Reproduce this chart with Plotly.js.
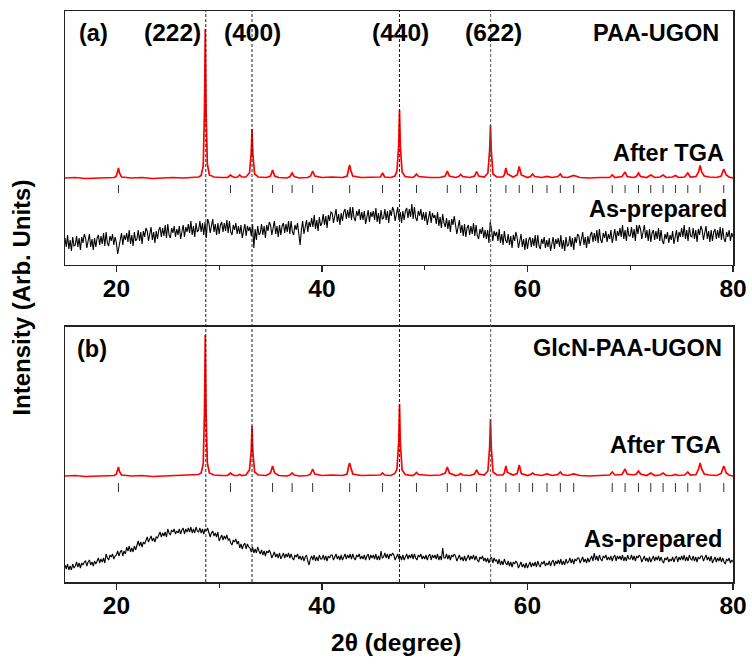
<!DOCTYPE html>
<html>
<head>
<meta charset="utf-8">
<script src="https://cdn.plot.ly/plotly-3.0.1.min.js"></script>
<style>html,body{margin:0;padding:0;background:#fff;}#chart{width:752px;height:666px;}</style>
</head>
<body>
<div id="chart"></div>
<script>
// ---------- data (arbitrary intensity units) ----------
// 2-theta positions of the "After TGA" traces
var tgaX = [15.0,16.0,17.0,18.0,19.0,19.8,20.0,20.1,20.2,20.3,20.5,21.5,22.5,23.5,24.5,25.5,26.5,27.5,28.0,28.25,28.45,28.57,28.65,28.73,28.85,29.05,29.5,30.2,30.8,31.0,31.1,31.2,31.5,31.8,32.0,32.2,32.6,32.95,33.12,33.2,33.28,33.45,33.8,34.6,35.0,35.2,35.4,35.8,36.6,36.9,37.1,37.3,37.8,38.6,38.9,39.1,39.3,40.0,41.0,42.0,42.45,42.6,42.7,42.8,43.0,43.8,44.8,45.7,45.9,46.1,46.7,47.1,47.3,47.47,47.55,47.63,47.8,48.1,48.8,49.0,49.2,49.4,50.5,51.5,52.0,52.2,52.4,53.0,53.3,53.5,53.7,54.4,54.85,55.05,55.25,55.8,56.15,56.32,56.4,56.48,56.65,57.0,57.6,57.75,57.9,58.05,58.6,59.0,59.2,59.4,60.0,60.3,60.5,60.7,61.4,61.9,62.4,62.95,63.2,63.4,63.9,64.5,65.1,66.0,67.0,68.0,68.25,68.5,69.2,69.5,69.7,70.3,70.6,70.8,71.0,71.6,72.0,72.4,72.9,73.2,73.5,74.1,74.4,74.7,75.3,75.6,75.85,76.4,76.65,76.8,76.95,77.2,77.7,78.4,78.85,79.1,79.35,79.6,80.0];
var tgaA = [87,87.5,86.5,87,87.5,87.5,89,93,97,92,88,87,87.5,86.5,87,87.5,87,87.5,88,89.5,99,154,236,152,101,90,88,87.5,87.5,89,90,89,87.5,88,90,88,88,92,112,136,111,91,88,87.5,89,95,89,87.5,87,88.5,92,88.5,87,87.5,89,94,89,87.5,88,87.5,89,96,100,95,89,87.5,87.5,88,92,88,87.5,89,94,120,155,119,93,88.5,87.5,88.5,91,88.5,87.5,87.5,89,94,89,87.5,88.5,90.5,88.5,87.5,89,93.5,89,88,92,115,140,114,91,88,88,90,97,91,88,90,98.5,90,87.5,88.5,91,88.5,87.5,88.5,87.5,88.5,91,88,87.5,89.5,87.5,87,87.5,87.5,90,87.5,88.5,93,88.5,87.5,88.5,92,88.5,87.5,90,87.5,88,90,87.5,88,89.5,87.5,88,92,88,88.5,93,99.5,93,89,88,87.5,89,96,90,88,87];
var tgaB = [106,106.5,105.5,106,106.5,106.5,108,111.5,115,110.5,107,106,106.5,105.5,106,106,106.5,107,107.5,109,118,170,247,168,119,109,107,106.5,106.5,108,109,108,106.5,106.5,107.5,106.5,107,112,131,156,130,110,107,106.5,109,116,109,106.5,106,107,109,107,106,106.5,108,113,108,106.5,107,106.5,108,116,119,115,108,106.5,106.5,107,109,107,106.5,108.5,113,140,178,139,112,107.5,106.5,107.5,109.5,107.5,106.5,107,109,115,109,106.5,107,108.5,107,106.5,108,112,108,107,111,135,163,134,110,107,107,109,116,109.5,107,108.5,117,108.5,106.5,107.5,109,107.5,106.5,108,106.5,107.5,110,107.5,106.5,108,106.5,106,106.5,107,110,107,107.5,113,108,107,108,111,108,106.5,109,106.5,107,109,106.5,106.5,107.5,106.5,107,110,107,107.5,113,119,113,108,107,106.5,108.5,116,109,107,106];

// "As-prepared" traces, one value every 0.125 degree from 15 to 80 (one row = one degree)
var asStart = 15, asStep = 0.125;
var asPrepA = [
27,18,30,16,25,14,28,19, 20,29,18,27,15,28,22,31, 27,17,24,31,18,26,15,27, 18,27,30,20,29,21,32,19,
33,22,19,29,24,31,20,28, 22,11,18,27,32,20,30,25, 32,23,35,21,30,19,33,24, 26,35,24,33,21,34,28,37,
34,24,31,38,25,33,22,34, 26,35,38,28,37,29,40,27, 41,30,27,37,32,39,28,36, 30,39,26,35,40,28,38,33,
41,32,44,30,39,28,42,33, 35,44,33,42,30,43,27,46, 42,32,39,46,33,41,30,42, 31,40,43,33,42,34,45,32,
44,33,30,40,35,42,31,39, 31,40,27,36,41,29,39,34, 38,29,41,17,36,25,39,30, 32,41,30,39,27,40,34,43,
40,30,37,44,31,39,28,40, 30,39,42,32,41,33,44,31, 44,33,30,40,35,42,31,20, 35,44,31,40,45,33,43,38,
47,38,50,36,45,34,48,39, 42,51,40,49,37,50,44,53, 52,42,49,56,43,51,40,52, 44,53,56,46,55,47,58,45,
58,47,44,54,49,56,45,53, 45,54,41,50,55,43,53,48, 54,45,57,43,52,41,55,46, 47,56,45,54,42,55,49,58,
54,44,51,58,45,53,42,54, 45,54,57,47,56,48,61,46, 58,47,44,54,49,56,45,53, 44,53,40,49,54,42,52,47,
50,41,53,39,48,37,51,42, 38,47,36,45,33,46,40,49, 41,31,38,45,32,40,29,41, 28,37,40,30,39,31,42,29,
40,29,26,36,31,38,27,35, 26,35,22,43,36,24,34,29, 33,24,36,22,31,20,34,25, 22,31,20,29,17,30,24,33,
27,17,24,31,18,26,15,27, 16,25,28,18,27,19,30,17, 30,19,16,26,21,28,17,25, 18,27,14,23,28,16,26,21,
27,18,30,16,25,14,28,19, 20,29,18,27,15,28,22,31, 29,19,26,33,20,28,17,29, 21,30,33,23,32,24,35,22,
36,25,22,32,27,34,23,31, 26,35,22,31,36,24,34,29, 37,28,40,26,35,24,38,29, 29,38,27,36,24,40,31,40,
36,26,33,40,27,35,24,36, 23,32,35,25,34,26,37,24, 35,24,21,31,26,33,22,30, 25,34,21,30,35,23,33,28,
37,28,40,26,35,24,38,29, 28,37,26,35,23,36,30,39, 35,25,32,39,26,34,23,35, 24,33,36,26,35,27,38,25,
37,26,23,33,28,35,24,32,
28];
var asPrepB = [
17,13,18,12,16,12,18,14, 16,20,15,19,14,19,17,20, 21,16,20,22,17,20,16,21, 18,22,24,19,23,20,24,19,
28,24,22,27,25,28,23,26, 27,31,26,30,32,26,31,28, 35,31,36,30,34,30,36,32, 37,41,36,40,35,40,38,41,
45,40,44,46,41,44,40,45, 44,48,50,45,49,46,50,45, 53,49,47,52,50,53,48,51, 49,53,48,52,54,48,53,50,
54,50,55,49,53,49,55,51, 50,54,49,53,48,53,51,54, 50,45,49,51,46,49,45,50, 41,45,47,42,46,43,47,42,
43,39,37,42,40,43,38,41, 34,38,33,37,39,33,38,35, 34,30,35,29,33,29,35,31, 28,32,27,31,26,31,29,32,
29,24,28,30,25,28,24,29, 23,27,29,24,28,25,29,24, 28,24,22,27,25,28,23,26, 22,26,21,25,27,21,17,23,
26,22,27,21,25,21,27,23, 23,27,22,26,21,26,24,27, 27,22,26,28,23,26,22,27, 22,26,28,23,27,24,28,23,
28,24,22,27,25,28,23,26, 23,27,22,26,28,22,27,24, 27,23,28,22,26,22,31,24, 25,29,24,28,23,28,26,29,
27,22,26,28,23,26,22,27, 22,26,28,23,27,24,28,23, 28,24,22,27,25,28,23,26, 23,27,22,26,28,22,27,24,
27,23,28,22,26,22,34,24, 24,28,23,27,22,27,25,28, 26,21,25,27,22,25,21,26, 21,25,27,22,26,23,27,22,
26,22,20,25,23,26,21,24, 20,24,19,23,25,19,24,21, 22,18,23,17,21,17,23,19, 17,21,16,20,15,20,18,21,
19,14,18,20,15,18,14,19, 14,18,20,15,19,16,20,15, 21,17,15,20,18,21,16,19, 17,21,16,20,22,16,21,18,
22,18,23,17,21,17,23,19, 20,24,19,23,18,23,21,24, 24,19,23,25,20,23,19,24, 20,24,26,21,29,22,26,21,
27,23,21,26,24,27,22,25, 22,26,21,25,27,21,26,23, 26,22,27,21,25,21,27,23, 23,27,22,26,21,26,24,27,
25,20,24,26,21,24,20,25, 20,24,26,21,25,22,26,21, 25,21,19,24,22,25,20,23, 21,25,20,24,26,20,25,22,
26,22,27,21,25,21,27,23, 22,26,21,25,20,25,23,26, 26,21,25,27,22,25,21,26, 19,23,25,20,24,21,25,20,
24,20,18,23,21,24,19,22,
20];

// reference reflection markers and indexed peaks
var refPos = [20.2,31.1,35.2,37.1,39.1,42.7,45.9,49.2,52.2,53.5,55.05,57.9,59.2,60.5,61.9,63.2,64.5,68.25,69.5,70.8,72.0,73.2,74.4,75.6,76.8,79.1];
var hklPos = [28.7, 33.2, 47.55, 56.42];
var hklLabels = ["(222)", "(400)", "(440)", "(622)"];
var xTicks = [20, 40, 60, 80];
var xMinorTicks = [30, 50, 70];

// ---------- build traces ----------
var asX = [];
for (var i = 0; i < asPrepA.length; i++) asX.push(asStart + i * asStep);

function markers(pos, lo, hi) {
  var x = [], y = [];
  pos.forEach(function (p) { x.push(p, p, null); y.push(lo, hi, null); });
  return {x: x, y: y};
}
var mA = markers(refPos, 72, 80);
var mB = markers(refPos, 90, 99);

var red = '#ff0000';
var traces = [
  {x: asX, y: asPrepA, xaxis: 'x', yaxis: 'y', mode: 'lines', line: {color: '#000', width: 1.1}, hoverinfo: 'skip'},
  {x: tgaX, y: tgaA, xaxis: 'x', yaxis: 'y', mode: 'lines', line: {color: red, width: 1.7}, hoverinfo: 'skip'},
  {x: mA.x, y: mA.y, xaxis: 'x', yaxis: 'y', mode: 'lines', line: {color: '#333', width: 1}, connectgaps: false, hoverinfo: 'skip'},
  {x: asX, y: asPrepB, xaxis: 'x2', yaxis: 'y2', mode: 'lines', line: {color: '#000', width: 1.1}, hoverinfo: 'skip'},
  {x: tgaX, y: tgaB, xaxis: 'x2', yaxis: 'y2', mode: 'lines', line: {color: red, width: 1.7}, hoverinfo: 'skip'},
  {x: mB.x, y: mB.y, xaxis: 'x2', yaxis: 'y2', mode: 'lines', line: {color: '#333', width: 1}, connectgaps: false, hoverinfo: 'skip'}
];

var FONT = 'Liberation Sans, Arial, Helvetica, sans-serif';
var tickFont = {family: FONT, size: 24.5, color: '#000', weight: 700};

function xAxis(anchor) {
  return {
    anchor: anchor, domain: [0, 1], range: [15, 80],
    tickmode: 'array', tickvals: xTicks, ticktext: xTicks.map(String),
    ticks: 'outside', ticklen: 6, tickwidth: 1.5, tickcolor: '#222',
    ticklabelstandoff: -5,
    minor: {tickmode: 'array', tickvals: xMinorTicks, ticks: 'outside', ticklen: 4, tickwidth: 1.2, tickcolor: '#222'},
    tickfont: tickFont,
    showline: true, mirror: true, linecolor: '#222', linewidth: 1.5,
    showgrid: false, zeroline: false
  };
}
function yAxis(anchor, dom, rng) {
  return {
    anchor: anchor, domain: dom, range: rng,
    showticklabels: false, ticks: '',
    showline: true, mirror: true, linecolor: '#222', linewidth: 1.5,
    showgrid: false, zeroline: false
  };
}

var shapes = hklPos.map(function (p, k) {
  return {type: 'line', xref: 'x', yref: 'paper', x0: p, x1: p, y0: 0, y1: 1,
          line: {color: k === 3 ? '#555' : '#222', width: 1, dash: '3px,2px'}, layer: 'above'};
});

function ann(text, x, y, xanchor, size, extra) {
  var a = {text: text, xref: 'paper', yref: 'paper', x: x, y: y, xanchor: xanchor, yanchor: 'middle',
           showarrow: false, font: {family: FONT, size: size || 23.5, color: '#000', weight: 700}};
  if (extra) for (var k in extra) a[k] = extra[k];
  return a;
}
var hklX = [0.161, 0.2807, 0.5015, 0.6422];
var annotations = [
  ann('(a)', 0.018, 0.9615, 'left'),
  ann('PAA-UGON', 0.982, 0.9615, 'right'),
  ann('After TGA', 0.9895, 0.7518, 'right'),
  ann('As-prepared', 0.9936, 0.6532, 'right'),
  ann('(b)', 0.015, 0.408, 'left'),
  ann('GlcN-PAA-UGON', 0.987, 0.4093, 'right'),
  ann('After TGA', 0.9846, 0.2399, 'right'),
  ann('As-prepared', 0.9865, 0.0753, 'right'),
  ann('Intensity (Arb. Units)', -0.0644, 0.498, 'center', 24, {textangle: -90}),
  ann('2θ (degree)', 0.4955, -0.1068, 'center', 24.5)
];
hklLabels.forEach(function (t, k) { annotations.push(ann(t, hklX[k], 0.9615, 'center', 24.5)); });

var layout = {
  width: 752, height: 666,
  margin: {l: 65, r: 19, t: 11, b: 84},
  paper_bgcolor: '#fff', plot_bgcolor: '#fff',
  showlegend: false,
  xaxis: xAxis('y'),
  yaxis: yAxis('x', [0.5552, 1], [0, 254]),
  xaxis2: xAxis('y2'),
  yaxis2: yAxis('x2', [0, 0.4466], [0, 255]),
  shapes: shapes,
  annotations: annotations
};

Plotly.newPlot('chart', traces, layout, {displayModeBar: false, staticPlot: true});
</script>
</body>
</html>
